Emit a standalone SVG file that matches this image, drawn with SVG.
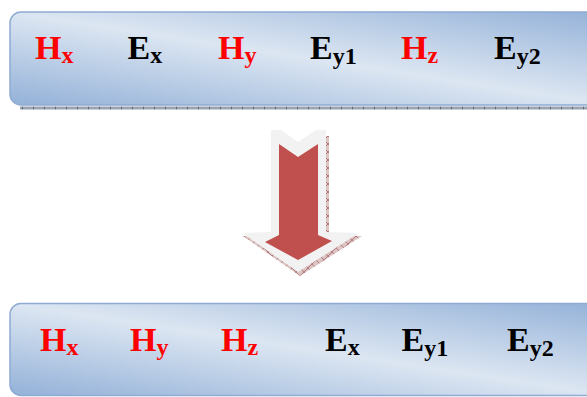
<svg xmlns="http://www.w3.org/2000/svg" width="587" height="397" viewBox="0 0 587 397">
<defs>
<linearGradient id="boxGrad" x1="0" y1="1" x2="1" y2="0">
<stop offset="0" stop-color="#93b1d8"/>
<stop offset="0.5" stop-color="#dce6f2"/>
<stop offset="1" stop-color="#93b1d8"/>
</linearGradient>
<pattern id="hatch" width="11" height="3" patternUnits="userSpaceOnUse">
<rect width="11" height="3" fill="#9aa4b0"/>
<rect x="0" y="0" width="1" height="3" fill="#5e6a78"/>
</pattern>
<pattern id="redHatch" width="8" height="8" patternUnits="userSpaceOnUse">
<rect width="8" height="8" fill="#dcc4c4"/>
<path d="M0 8 L8 0 M0 0 L8 8" stroke="#a05a5a" stroke-width="0.7"/>
</pattern>
<style>
.box{fill:url(#boxGrad);stroke:#8eabd3;stroke-width:1.5}
.lbl{font-family:"Liberation Serif","Times New Roman",serif;font-weight:bold;font-size:34px}
.sub{font-size:24px}
.r{fill:#ff0000}
.k{fill:#000000}
</style>
</defs>
<g id="top-box">
<rect x="20" y="106.5" width="580" height="3" fill="url(#hatch)"/>
<rect class="box" x="10" y="12" width="600" height="93" rx="11"/>
<text class="lbl r" x="35" y="59">H<tspan class="sub" dy="4">x</tspan></text>
<text class="lbl k" x="127.5" y="59">E<tspan class="sub" dy="4">x</tspan></text>
<text class="lbl r" x="218" y="59">H<tspan class="sub" dy="4">y</tspan></text>
<text class="lbl k" x="310" y="59">E<tspan class="sub" dy="5">y1</tspan></text>
<text class="lbl r" x="401" y="59">H<tspan class="sub" dy="4">z</tspan></text>
<text class="lbl k" x="494" y="59">E<tspan class="sub" dy="5">y2</tspan></text>
</g>
<g id="connectors">
<polygon points="318,136 329,136 329,235 362,236 300,276 243,236 300,236" fill="url(#redHatch)"/>
<polygon points="271,130 281,130 298,142 316,130 326,130 326,232 359,233 298,272 242,233 271,232" fill="#f2f2f2"/>
<polygon points="279,144 298,157 318,144 318,235 332,241 298,260 265,242 279,235" fill="#c0504d"/>
</g>
<g id="bottom-box">
<rect class="box" x="10" y="303.5" width="600" height="92" rx="11"/>
<text class="lbl r" x="40" y="351">H<tspan class="sub" dy="4">x</tspan></text>
<text class="lbl r" x="130" y="351">H<tspan class="sub" dy="4">y</tspan></text>
<text class="lbl r" x="221" y="351">H<tspan class="sub" dy="4">z</tspan></text>
<text class="lbl k" x="325" y="351">E<tspan class="sub" dy="4">x</tspan></text>
<text class="lbl k" x="401.5" y="351">E<tspan class="sub" dy="5">y1</tspan></text>
<text class="lbl k" x="507" y="351">E<tspan class="sub" dy="5">y2</tspan></text>
</g>
</svg>
